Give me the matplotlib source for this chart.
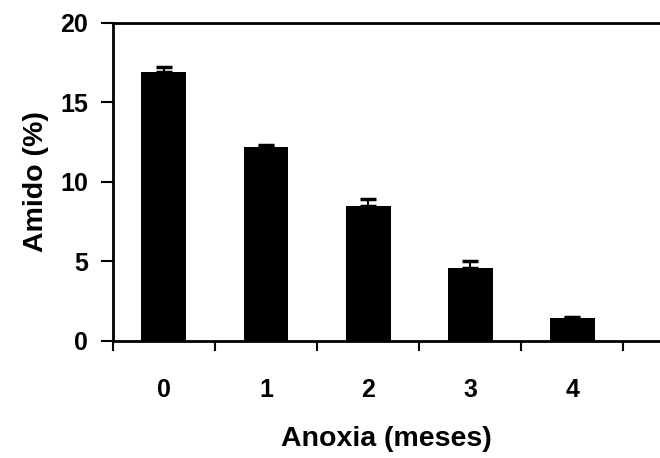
import matplotlib
matplotlib.use("Agg")
import matplotlib.pyplot as plt
import numpy as np

months = ["0", "1", "2", "3", "4"]
amido = [16.9, 12.2, 8.5, 4.6, 1.45]
err = [0.35, 0.15, 0.4, 0.4, 0.05]
yticks = [0, 5, 10, 15, 20]

plt.rcParams["font.family"] = ["Liberation Sans", "DejaVu Sans"]
plt.rcParams["font.weight"] = "bold"

fig = plt.figure(figsize=(6.6, 4.58), dpi=100)
ax = fig.add_axes([0.171, 0.2555, 0.829, 0.6945])

x = np.arange(len(months))
ax.bar(x, amido, width=0.44, color="black", zorder=2)
ax.errorbar(x, amido, yerr=[np.zeros(len(err)), err], fmt="none",
            ecolor="black", elinewidth=1.5, capsize=6, capthick=2.5, zorder=3)

ax.set_ylim(0, 20)
ax.set_xlim(-0.5, 4.86)
ax.set_yticks(yticks)
ax.set_xticks(x)
ax.set_xticklabels(months)
ax.set_xticks(np.arange(-0.5, 4.6, 1.0), minor=True)
ax.tick_params(axis="x", which="major", length=0, pad=27, labelsize=18)
ax.tick_params(axis="x", which="minor", length=7, width=1.5, direction="out")
ax.tick_params(axis="y", length=9, width=1.5, direction="out", labelsize=18, pad=9)

for s in ["left", "bottom", "top"]:
    ax.spines[s].set_linewidth(2)
ax.spines["right"].set_visible(False)

ax.set_ylabel("Amido (%)", fontsize=20.5, fontweight="bold", labelpad=8)
ax.set_xlabel("Anoxia (meses)", fontsize=20.5, fontweight="bold", labelpad=17)

fig.savefig("out.png", dpi=100)
